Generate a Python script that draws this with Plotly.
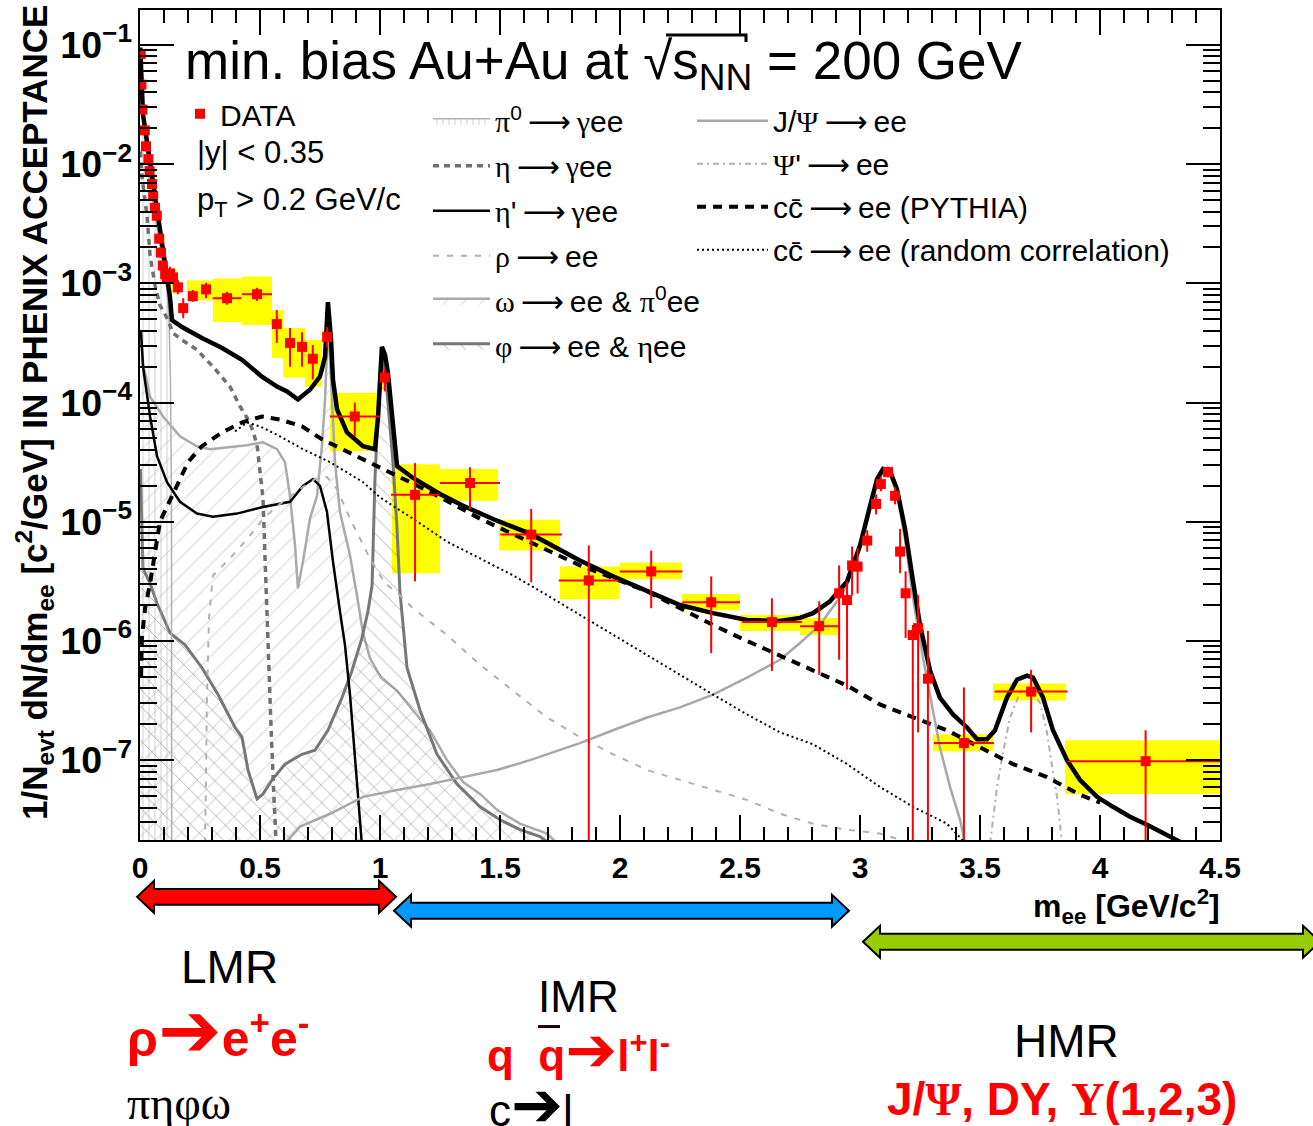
import plotly.graph_objects as go

# ---------------- data ----------------
# measured points
data_m = [0.003, 0.006, 0.01, 0.02, 0.025, 0.035, 0.04, 0.05, 0.055, 0.0625, 0.07, 0.08, 0.0875, 0.095,
          0.105, 0.1125, 0.125, 0.1375, 0.158, 0.18, 0.22, 0.275, 0.3625, 0.4875, 0.57, 0.625, 0.675,
          0.72, 0.78, 0.895, 1.02, 1.146, 1.375, 1.63, 1.87, 2.13, 2.38, 2.633, 2.83, 2.913, 2.946,
          2.967, 2.99, 3.03, 3.067, 3.087, 3.117, 3.146, 3.167, 3.19, 3.22, 3.242, 3.283, 3.433, 3.713, 4.19]
data_y = [0.084, 0.0464, 0.0287, 0.0192, 0.0141, 0.0110, 0.00874, 0.00681, 0.00541, 0.0043, 0.00369,
          0.00237, 0.00181, 0.00141, 0.00119, 0.00112, 0.00121, 0.00112, 0.000926, 0.000619, 0.00078,
          0.00089, 0.00075, 0.00081, 0.000455, 0.000316, 0.000293, 0.000233, 0.000355, 7.64e-5,
          0.000162, 1.68e-5, 2.11e-5, 7.8e-6, 3.22e-6, 3.83e-6, 2.11e-6, 1.44e-6, 1.33e-6, 2.51e-6,
          2.2e-6, 4.3e-6, 4.2e-6, 6.95e-6, 1.41e-5, 2.07e-5, 2.61e-5, 1.65e-5, 5.62e-6, 2.51e-6,
          1.12e-6, 1.28e-6, 4.82e-7, 1.39e-7, 3.76e-7, 9.8e-8]
data_xerr = [0.005] * 22 + [0.06, 0.0625, 0.01, 0.01, 0.01, 0.01, 0.01, 0.104, 0.01, 0.1, 0.125, 0.128,
             0.125, 0.13, 0.12, 0.125, 0.08] + [0.005] * 14 + [0.125, 0.152, 0.323]
data_hi = [0.092, 0.051, 0.0315, 0.021, 0.0155, 0.0121, 0.0096, 0.0075, 0.0060, 0.0047, 0.0041, 0.0026,
           0.0020, 0.00155, 0.00135, 0.00128, 0.00138, 0.00128, 0.00106, 0.00075, 0.00088, 0.00101,
           0.00085, 0.00092, 0.000596, 0.000422, 0.000389, 0.000304, 0.00043, 1.0e-4, 0.000196, 3.1e-5,
           2.87e-5, 1.28e-5, 6.31e-6, 5.73e-6, 3.48e-6, 2.28e-6, 2.15e-6, 4.3e-6, 3.16e-6, 6.2e-6,
           6.0e-6, 8.5e-6, 1.7e-5, 2.4e-5, 2.9e-5, 1.95e-5, 8.7e-6, 3.83e-6, 1.36e-6, 2.42e-6, 1.21e-6,
           4.06e-7, 5.73e-7, 1.78e-7]
data_lo = [0.077, 0.042, 0.026, 0.0175, 0.0128, 0.010, 0.0079, 0.0062, 0.0049, 0.0039, 0.0034, 0.00215,
           0.00165, 0.00128, 0.00105, 0.00098, 0.00105, 0.00098, 0.00081, 0.00051, 0.0007, 0.00075,
           0.00066, 0.00071, 0.000316, 0.0002, 0.0002, 0.000156, 0.00029, 5.2e-5, 0.000124, 3.16e-6,
           1.28e-5, 3.1e-6, 1e-9, 1.88e-6, 7.9e-7, 5.6e-7, 5.2e-7, 6.95e-7, 3.9e-7, 2.4e-6, 2.5e-6,
           5.6e-6, 1.15e-5, 1.8e-5, 2.35e-5, 1.4e-5, 3.7e-6, 1.06e-6, 1e-9, 1.71e-7, 1e-9, 1e-9,
           1.71e-7, 1e-9]

# systematic-uncertainty boxes
sys_m = [0.1415, 0.25, 0.3645, 0.4875, 0.573, 0.642, 0.723, 0.775, 0.89, 1.015, 1.15, 1.371, 1.623,
         1.875, 2.129, 2.379, 2.625, 2.829, 2.967, 2.99, 3.03, 3.067, 3.087, 3.117, 3.146, 3.167,
         3.242, 3.283, 3.429, 3.706, 4.177]
sys_w = [0.033, 0.108, 0.121, 0.125, 0.046, 0.0915, 0.0705, 0.034, 0.196, 0.05, 0.2, 0.242, 0.254,
         0.25, 0.258, 0.242, 0.25, 0.158] + [0.025] * 10 + [0.25, 0.304, 0.646]
sys_lo = [8.26e-4, 7.2e-4, 4.73e-4, 4.47e-4, 2.37e-4, 1.62e-4, 1.36e-4, 3.16e-4, 3.9e-5, 1.3e-4,
          3.69e-6, 1.5e-5, 5.73e-6, 2.24e-6, 3.29e-6, 1.81e-6, 1.21e-6, 1.12e-6, 3.9e-6, 3.8e-6,
          6.3e-6, 1.28e-5, 1.9e-5, 2.4e-5, 1.5e-5, 5.1e-6, 1.16e-6, 4.4e-7, 1.19e-7, 3.16e-7, 5.2e-8]
sys_hi = [1.28e-3, 1.06e-3, 1.10e-3, 1.14e-3, 5.96e-4, 4.22e-4, 3.35e-4, 4.06e-4, 1.21e-4, 1.9e-4,
          3.04e-5, 2.77e-5, 1.04e-5, 4.22e-6, 4.55e-6, 2.47e-6, 1.65e-6, 1.56e-6, 4.7e-6, 4.6e-6,
          7.6e-6, 1.55e-5, 2.25e-5, 2.85e-5, 1.8e-5, 6.2e-6, 1.4e-6, 5.3e-7, 1.65e-7, 4.39e-7, 1.47e-7]

# cocktail components
total_m = [0.001, 0.004, 0.0125, 0.029, 0.05, 0.071, 0.092, 0.1125, 0.125, 0.133, 0.175, 0.258, 0.342,
           0.425, 0.508, 0.571, 0.6125, 0.658, 0.708, 0.75, 0.771, 0.783, 0.796, 0.804, 0.821, 0.8625,
           0.929, 0.979, 0.992, 1.008, 1.021, 1.033, 1.054, 1.071, 1.1375, 1.25, 1.346, 1.4875, 1.625,
           1.833, 1.971, 2.1125, 2.25, 2.3875, 2.529, 2.667, 2.75, 2.804, 2.875, 2.946, 3.0, 3.042,
           3.071, 3.096, 3.125, 3.154, 3.1875, 3.221, 3.25, 3.292, 3.333, 3.3875, 3.446, 3.4875, 3.529,
           3.5625, 3.6125, 3.654, 3.696, 3.721, 3.7625, 3.804, 3.8625, 3.917, 3.9875, 4.054, 4.125,
           4.196, 4.2625, 4.333]
total_y = [0.095, 0.0596, 0.0261, 0.01556, 0.00826, 0.00406, 0.00215, 0.00128, 0.000764, 0.000492,
           0.00043, 0.000348, 0.000287, 0.000228, 0.000165, 0.000136, 0.000124, 0.000106, 0.000128,
           0.000165, 0.000242, 0.000695, 0.000335, 0.000156, 8.75e-5, 5.62e-5, 4.3e-5, 4.06e-5, 7.64e-5,
           0.000293, 0.000251, 0.000178, 5.96e-5, 2.93e-5, 2.33e-5, 1.71e-5, 1.36e-5, 1.02e-5, 7.94e-6,
           4.73e-6, 3.48e-6, 2.61e-6, 2.0e-6, 1.71e-6, 1.5e-6, 1.47e-6, 1.56e-6, 1.71e-6, 2.15e-6,
           3.16e-6, 6.31e-6, 1.36e-5, 2.28e-5, 2.77e-5, 2.66e-5, 1.88e-5, 8.75e-6, 3.16e-6, 1.36e-6,
           5.62e-7, 3.35e-7, 2.42e-7, 1.88e-7, 1.5e-7, 1.5e-7, 1.78e-7, 3.35e-7, 4.73e-7, 5.11e-7,
           4.92e-7, 3.35e-7, 1.78e-7, 1.0e-7, 6.81e-8, 4.92e-8, 4.06e-8, 3.35e-8, 2.87e-8, 2.42e-8, 2.07e-8]

pi0_m = [0.001, 0.004, 0.008, 0.021, 0.042, 0.0625, 0.083, 0.1, 0.1125, 0.121, 0.127, 0.131, 0.134]
pi0_y = [0.0908, 0.0492, 0.0277, 0.01556, 0.00656, 0.00369, 0.00207, 0.00133, 0.000875, 0.000492,
         0.000156, 1.56e-5, 1e-9]

eta_m = [0.002, 0.008, 0.029, 0.042, 0.0625, 0.083, 0.117, 0.1375, 0.175, 0.2375, 0.304, 0.375, 0.417,
         0.458, 0.4875, 0.5, 0.5125, 0.521, 0.533, 0.546, 0.558, 0.567]
eta_y = [0.0128, 0.00794, 0.00369, 0.00171, 0.000962, 0.000656, 0.000492, 0.000383, 0.000335, 0.000277,
         0.0002, 0.000136, 9.26e-5, 6.81e-5, 4.47e-5, 2.61e-5, 1.56e-5, 4.92e-6, 8.75e-7, 1.88e-7,
         4.92e-8, 2.07e-8]

etap_m = [0.004, 0.0125, 0.042, 0.071, 0.1125, 0.1667, 0.2375, 0.304, 0.404, 0.5125, 0.625, 0.679,
          0.721, 0.75, 0.779, 0.804, 0.833, 0.854, 0.875, 0.896, 0.9125, 0.925]
etap_y = [4.06e-4, 2.0e-4, 7.64e-5, 3.55e-5, 2.15e-5, 1.47e-5, 1.17e-5, 1.10e-5, 1.17e-5, 1.33e-5,
          1.47e-5, 2.0e-5, 2.28e-5, 2.0e-5, 1.21e-5, 4.64e-6, 1.78e-6, 9.26e-7, 3.55e-7, 1.0e-7,
          3.83e-8, 1.9e-8]

rho_m = [0.271, 0.279, 0.2875, 0.304, 0.375, 0.458, 0.5125, 0.583, 0.667, 0.729, 0.779, 0.821, 0.875,
         0.958, 1.021, 1.083, 1.1375, 1.279, 1.417, 1.554, 1.696, 1.833, 1.971, 2.1125, 2.25, 2.3875,
         2.529, 2.667, 2.804, 2.946, 3.083, 3.196]
rho_y = [2.0e-8, 3.35e-7, 1.56e-6, 3.55e-6, 4.92e-6, 7.64e-6, 1.06e-5, 1.41e-5, 1.88e-5, 2.28e-5,
         2.37e-5, 1.88e-5, 1.06e-5, 4.92e-6, 3.04e-6, 2.42e-6, 1.88e-6, 1.12e-6, 6.31e-7, 3.83e-7,
         2.28e-7, 1.56e-7, 1.12e-7, 8.26e-8, 6.81e-8, 5.62e-8, 4.64e-8, 3.55e-8, 2.93e-8, 2.61e-8,
         2.42e-8, 2.07e-8]

omega_m = [0.002, 0.0125, 0.042, 0.096, 0.1667, 0.2375, 0.2917, 0.375, 0.446, 0.5125, 0.571, 0.604,
           0.625, 0.646, 0.658, 0.679, 0.708, 0.7375, 0.758, 0.771, 0.783, 0.792, 0.8, 0.8125, 0.833,
           0.875, 0.904, 0.929, 0.958, 1.004, 1.071, 1.1375, 1.208, 1.279, 1.346, 1.417, 1.4875, 1.583,
           1.696, 1.75]
omega_y = [4.06e-4, 2.15e-4, 1.12e-4, 7.64e-5, 5.21e-5, 4.3e-5, 4.06e-5, 4.22e-5, 4.38e-5, 4.64e-5,
           4.06e-5, 3.16e-5, 1.65e-5, 6.31e-6, 2.77e-6, 4.64e-6, 1.06e-5, 1.65e-5, 4.3e-5, 1.06e-4,
           4.5e-4, 2.28e-4, 1.12e-4, 3.16e-5, 1.21e-5, 5.21e-6, 2.42e-6, 1.17e-6, 7.2e-7, 4.92e-7,
           3.83e-7, 2.61e-7, 1.78e-7, 1.0e-7, 6.56e-8, 5.21e-8, 3.83e-8, 2.93e-8, 2.42e-8, 1.9e-8]

phi_m = [0.002, 0.0125, 0.042, 0.071, 0.125, 0.1875, 0.258, 0.325, 0.396, 0.425, 0.45, 0.4875, 0.5125,
         0.55, 0.604, 0.675, 0.729, 0.783, 0.842, 0.883, 0.925, 0.95, 0.967, 0.971, 0.979, 0.992,
         1.008, 1.025, 1.042, 1.054, 1.071, 1.083, 1.1125, 1.167, 1.2375, 1.321, 1.417, 1.5, 1.583,
         1.667, 1.72]
phi_y = [2.77e-5, 4.06e-6, 3.04e-6, 2.07e-6, 1.17e-6, 9.26e-7, 5.96e-7, 3.55e-7, 1.88e-7, 1.56e-7,
         8.26e-8, 4.73e-8, 5.21e-8, 6.81e-8, 9.26e-8, 1.12e-7, 1.21e-7, 1.78e-7, 3.35e-7, 5.62e-7,
         1.06e-6, 1.78e-6, 2.93e-6, 6.3e-6, 2.28e-5, 8.26e-5, 2.66e-4, 1.56e-4, 5.96e-5, 3.16e-5,
         8.75e-6, 2.61e-6, 5.96e-7, 2.61e-7, 1.12e-7, 6.31e-8, 4.06e-8, 3.16e-8, 2.61e-8, 2.28e-8, 1.9e-8]

jpsi_m = [0.604, 0.667, 0.792, 0.929, 1.071, 1.208, 1.346, 1.4875, 1.625, 1.833, 1.971, 2.1125, 2.25,
          2.3875, 2.529, 2.667, 2.75, 2.833, 2.904, 2.946, 3.0, 3.042, 3.071, 3.096, 3.125, 3.154,
          3.1875, 3.221, 3.2625, 3.304, 3.333, 3.375, 3.417, 3.44]
jpsi_y = [2.0e-8, 2.77e-8, 3.55e-8, 4.92e-8, 5.62e-8, 6.31e-8, 7.2e-8, 8.26e-8, 1.0e-7, 1.39e-7,
          1.78e-7, 2.28e-7, 2.77e-7, 3.55e-7, 4.92e-7, 6.95e-7, 9.62e-7, 1.36e-6, 2.15e-6, 2.93e-6,
          5.96e-6, 1.28e-5, 2.15e-5, 2.61e-5, 2.47e-5, 1.71e-5, 7.2e-6, 2.28e-6, 7.2e-7, 2.61e-7,
          1.28e-7, 5.96e-8, 3.16e-8, 1.9e-8]

psip_m = [3.542, 3.571, 3.592, 3.625, 3.667, 3.708, 3.75, 3.779, 3.804, 3.821, 3.842]
psip_y = [2.0e-8, 5.96e-8, 1.06e-7, 2.28e-7, 3.69e-7, 3.83e-7, 3.04e-7, 1.71e-7, 7.94e-8, 4.92e-8, 2.0e-8]

ccb_m = [0.004, 0.008, 0.021, 0.042, 0.083, 0.146, 0.2, 0.258, 0.342, 0.425, 0.508, 0.583, 0.675,
         0.758, 0.867, 1.0, 1.071, 1.208, 1.417, 1.833, 2.1125, 2.25, 2.3875, 2.529, 2.667, 2.804,
         2.946, 3.083, 3.221, 3.3625, 3.5, 3.6375, 3.779, 3.917, 4.0]
ccb_y = [5e-7, 1.06e-6, 1.88e-6, 3.04e-6, 1.0e-5, 1.88e-5, 3.16e-5, 4.3e-5, 5.62e-5, 6.81e-5, 7.64e-5,
         7.2e-5, 6.31e-5, 4.92e-5, 3.83e-5, 2.87e-5, 2.42e-5, 1.78e-5, 1.06e-5, 4.3e-6, 2.61e-6,
         1.88e-6, 1.36e-6, 1.0e-6, 7.5e-7, 5.62e-7, 4.22e-7, 2.93e-7, 2.28e-7, 1.78e-7, 1.28e-7,
         9.26e-8, 7.2e-8, 5.11e-8, 4.4e-8]

rnd_m = [0.396, 0.446, 0.5, 0.583, 0.679, 0.792, 0.929, 1.0, 1.1375, 1.279, 1.417, 1.554, 1.696,
         1.833, 1.971, 2.1125, 2.25, 2.3875, 2.529, 2.667, 2.804, 2.946, 3.083, 3.221, 3.3625, 3.44]
rnd_y = [5.73e-5, 6.81e-5, 6.31e-5, 5.21e-5, 4.06e-5, 3.16e-5, 2.15e-5, 1.6e-5, 1.06e-5, 6.81e-6,
         4.92e-6, 3.55e-6, 2.42e-6, 1.65e-6, 1.12e-6, 7.64e-7, 5.21e-7, 3.55e-7, 2.42e-7, 1.71e-7,
         1.36e-7, 9.26e-8, 5.96e-8, 4.06e-8, 2.93e-8, 2.0e-8]

x_ticks = [0, 0.5, 1, 1.5, 2, 2.5, 3, 3.5, 4, 4.5]
x_ticklabels = ["0", "0.5", "1", "1.5", "2", "2.5", "3", "3.5", "4", "4.5"]

# ---------------- figure ----------------
FONT = "Liberation Sans"
SERIF = "Liberation Serif"
FLOOR = 1e-12
ARR = "<span style='font-family:DejaVu Sans'>\u2009\u27f6\u2009</span>"


def bigarr(px):
    return "<span style='font-family:DejaVu Sans;font-size:%dpx'>\u2794</span>" % px


def g(s):
    return "<span style='font-family:%s'>%s</span>" % (SERIF, s)


fig = go.Figure()

# yellow systematic boxes
fig.add_trace(go.Bar(x=sys_m, y=[h - l for h, l in zip(sys_hi, sys_lo)], base=sys_lo, width=sys_w,
                     marker=dict(color="#ffff00", line=dict(width=0)), showlegend=False,
                     hoverinfo="skip"))


def filled(mx, my, name, line, pattern, rank):
    fig.add_trace(go.Scatter(x=list(mx) + [mx[-1], mx[0]], y=list(my) + [FLOOR, FLOOR], mode="lines",
                             fill="toself", fillcolor="rgba(0,0,0,0)", fillpattern=pattern,
                             line=line, name=name, legend="legend2", legendrank=rank,
                             legendgroup="g2_%d" % rank))


filled(omega_m, omega_y, g("ω") + ARR + "ee & " + g("π") + "<sup>0</sup>ee",
       dict(color="#aaaaaa", width=2.5),
       dict(shape="/", fgcolor="#b0b0b0", bgcolor="rgba(0,0,0,0)", size=13, solidity=0.08), 5)
filled(phi_m, phi_y, g("φ") + ARR + "ee & " + g("η") + "ee",
       dict(color="#777777", width=3),
       dict(shape="\\", fgcolor="#666666", bgcolor="rgba(0,0,0,0)", size=12, solidity=0.08), 6)
filled(pi0_m, pi0_y, g("π") + "<sup>0</sup>" + ARR + g("γ") + "ee",
       dict(color="#b0b0b0", width=1.5),
       dict(shape="|", fgcolor="#b0b0b0", bgcolor="rgba(0,0,0,0)", size=6, solidity=0.2), 1)


def curve(mx, my, name, line, legend, rank):
    fig.add_trace(go.Scatter(x=mx, y=my, mode="lines", line=line, name=name, legend=legend,
                             legendrank=rank, legendgroup="%s_%d" % (legend, rank)))


curve(eta_m, eta_y, g("η") + ARR + g("γ") + "ee", dict(color="#707070", width=3.5, dash="6px,5px"),
      "legend2", 2)
curve(etap_m, etap_y, g("η") + "'" + ARR + g("γ") + "ee", dict(color="black", width=2.5), "legend2", 3)
curve(rho_m, rho_y, g("ρ") + ARR + "ee", dict(color="#b0b0b0", width=2, dash="6px,8px"), "legend2", 4)
curve(jpsi_m, jpsi_y, "J/" + g("Ψ") + ARR + "ee", dict(color="#a8a8a8", width=2.5), "legend3", 1)
curve(psip_m, psip_y, g("Ψ") + "'" + ARR + "ee", dict(color="#b0b0b0", width=2, dash="6px,4px,2px,4px"),
      "legend3", 2)
curve(ccb_m, ccb_y, "cc̄" + ARR + "ee (PYTHIA)", dict(color="black", width=4, dash="9px,7px"), "legend3", 3)
curve(rnd_m, rnd_y, "cc̄" + ARR + "ee (random correlation)", dict(color="black", width=2, dash="2px,3px"),
      "legend3", 4)

# total cocktail
fig.add_trace(go.Scatter(x=total_m, y=total_y, mode="lines", line=dict(color="black", width=4.5),
                         showlegend=False))

# data
fig.add_trace(go.Scatter(
    x=data_m, y=data_y, mode="markers", name="DATA", legend="legend",
    marker=dict(symbol="square", size=10, color="#ff0000"),
    error_x=dict(type="data", array=data_xerr, color="#ff0000", thickness=2, width=0),
    error_y=dict(type="data", symmetric=False,
                 array=[h - y for h, y in zip(data_hi, data_y)],
                 arrayminus=[y - l for y, l in zip(data_y, data_lo)],
                 color="#ff0000", thickness=2, width=0)))


def PX(x):
    return (x - 140) / 1080


def PY(y):
    return (840 - y) / 832


def arrow_path(x0, x1, yc, head_half, shaft_half, head_len):
    pts = [(x0, yc), (x0 + head_len, yc - head_half), (x0 + head_len, yc - shaft_half),
           (x1 - head_len, yc - shaft_half), (x1 - head_len, yc - head_half), (x1, yc),
           (x1 - head_len, yc + head_half), (x1 - head_len, yc + shaft_half),
           (x0 + head_len, yc + shaft_half), (x0 + head_len, yc + head_half)]
    return "M " + " L ".join("%.5f,%.5f" % (PX(a), PY(b)) for a, b in pts) + " Z"


shapes = []
for (x0, x1, yc, col) in [(137, 396, 897, "#ff0000"), (394, 849, 911, "#0099ff"),
                          (863, 1320, 942, "#99cc00")]:
    shapes.append(dict(type="path", xref="paper", yref="paper", path=arrow_path(x0, x1, yc, 16, 8, 17),
                       fillcolor=col, line=dict(color="black", width=2)))
# bar over the second q
shapes.append(dict(type="line", xref="paper", yref="paper", x0=PX(538), x1=PX(560), y0=PY(1027),
                   y1=PY(1027), line=dict(color="#220000", width=3)))
# radical overline in the title
shapes.append(dict(type="path", xref="paper", yref="paper",
                   path="M %.5f,%.5f L %.5f,%.5f L %.5f,%.5f" % (PX(666), PY(33), PX(746), PY(33),
                                                                 PX(746), PY(40)),
                   line=dict(color="black", width=3)))

ann = []


def text(x, y, s, size, color="black", xanchor="left", weight="normal", family=FONT, angle=0):
    ann.append(dict(x=PX(x), y=PY(y), xref="paper", yref="paper", text=s, showarrow=False,
                    xanchor=xanchor, yanchor="middle", textangle=angle,
                    font=dict(size=size, color=color, family=family, weight=weight)))


text(183, 63, "min. bias Au+Au at √s<sub>NN</sub> = 200 GeV", 53)
text(195, 151, "|y| < 0.35", 31)
text(195, 200, "p<sub>T</sub> > 0.2 GeV/c", 31)
text(1222, 907, "m<sub>ee</sub> [GeV/c<sup>2</sup>]", 32, xanchor="right", weight="bold")
text(34, 412, "1/N<sub>evt</sub> dN/dm<sub>ee</sub> [c<sup>2</sup>/GeV] IN PHENIX ACCEPTANCE", 35,
     xanchor="center", weight="bold", angle=-90)
text(229, 967, "LMR", 46, xanchor="center")
text(578, 997, "IMR", 44, xanchor="center")
text(1066, 1041, "HMR", 46, xanchor="center")
text(125, 1030, "ρ" + bigarr(76) + "e<sup>+</sup>e<sup>-</sup>", 50, color="#ff0000", weight="bold")
text(485, 1050, "q  q" + bigarr(62) + "l<sup>+</sup>l<sup>-</sup>", 44, color="#ff0000", weight="bold")
text(125, 1104, "πηφω", 46, family=SERIF)
text(487, 1105, "c" + bigarr(62) + "l", 44)
text(885, 1100, "J/" + g("Ψ") + ", DY, " + g("Υ") + "(1,2,3)", 46, color="#ff0000", weight="bold")

axis_common = dict(showline=True, linecolor="black", linewidth=2, mirror="ticks", ticks="inside",
                   tickcolor="black", tickwidth=2, showgrid=False, zeroline=False)

legend_common = dict(bgcolor="rgba(0,0,0,0)", borderwidth=0, xanchor="left", yanchor="top",
                     font=dict(family=FONT, size=30, color="black"))

fig.update_layout(
    width=1313, height=1126, margin=dict(l=140, r=93, t=8, b=286),
    plot_bgcolor="white", paper_bgcolor="white", barmode="overlay",
    font=dict(family=FONT, color="black"),
    xaxis=dict(range=[0, 4.5], tickvals=x_ticks, ticktext=x_ticklabels, ticklen=25,
               tickfont=dict(size=30, family=FONT, weight="bold"),
               minor=dict(dtick=0.1, ticks="inside", ticklen=13, tickwidth=2, tickcolor="black"),
               **axis_common),
    yaxis=dict(type="log", range=[-7.67, -0.707], dtick=1, exponentformat="power", ticklen=34,
               tickfont=dict(size=30, family=FONT, weight="bold"),
               minor=dict(dtick="D1", ticks="inside", ticklen=17, tickwidth=2, tickcolor="black"),
               **axis_common),
    legend=dict(x=PX(180), y=PY(86), itemwidth=30, tracegroupgap=0, **legend_common),
    legend2=dict(x=PX(428), y=PY(93), itemwidth=57, tracegroupgap=3, **legend_common),
    legend3=dict(x=PX(692), y=PY(93), itemwidth=71, tracegroupgap=1, **legend_common),
    shapes=shapes, annotations=ann,
)

fig.write_html("out.html", config={"displayModeBar": False})
